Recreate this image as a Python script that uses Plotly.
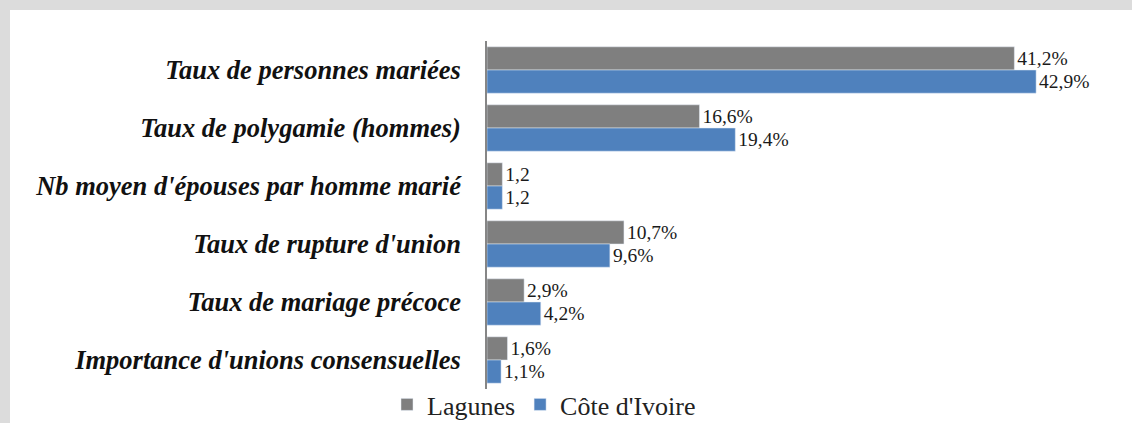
import plotly.graph_objects as go

categories = [
    "Taux de personnes mariées",
    "Taux de polygamie (hommes)",
    "Nb moyen d'épouses par homme marié",
    "Taux de rupture d'union",
    "Taux de mariage précoce",
    "Importance d'unions consensuelles",
]
lagunes = [41.2, 16.6, 1.2, 10.7, 2.9, 1.6]
cote_ivoire = [42.9, 19.4, 1.2, 9.6, 4.2, 1.1]
lagunes_labels = ["41,2%", "16,6%", "1,2", "10,7%", "2,9%", "1,6%"]
cote_ivoire_labels = ["42,9%", "19,4%", "1,2", "9,6%", "4,2%", "1,1%"]

# page is 1132x423 with a 10px grey frame on top and left; the figure is the white panel
OFF = 10
W, H = 1132 - OFF, 423 - OFF
L, R, T, B = 487 - OFF, 5, 41 - OFF, 423 - 389
pw = W - L - R
ph = H - T - B

value_font = dict(family="Liberation Serif", size=19.5, color="#1a1a1a")

fig = go.Figure()
fig.add_trace(go.Bar(
    y=categories, x=lagunes, orientation="h", name="Lagunes",
    marker=dict(color="#7f7f7f"),
    text=lagunes_labels, textposition="outside", cliponaxis=False,
    textfont=value_font,
))
fig.add_trace(go.Bar(
    y=categories, x=cote_ivoire, orientation="h", name="Côte d'Ivoire",
    marker=dict(color="#4f81bd"),
    text=cote_ivoire_labels, textposition="outside", cliponaxis=False,
    textfont=value_font,
))

fig.update_layout(
    width=W, height=H,
    margin=dict(l=L, r=R, t=T, b=B, autoexpand=False),
    paper_bgcolor="white",
    plot_bgcolor="white",
    barmode="group",
    bargap=0.2,
    bargroupgap=0,
    xaxis=dict(range=[0, 50], visible=False, fixedrange=True),
    yaxis=dict(
        autorange="reversed",
        showline=True, linecolor="#868686", linewidth=1.5,
        ticks="", ticklabelstandoff=19,
        tickfont=dict(family="Liberation Serif", size=26.5, color="#111111",
                      weight="bold", style="italic"),
        showgrid=False, fixedrange=True,
    ),
    legend=dict(
        orientation="h", x=(387 - L - OFF) / pw, xanchor="left",
        y=-(B + 5) / ph, yanchor="bottom",
        font=dict(family="Liberation Serif", size=26, color="#222222"),
        bgcolor="rgba(0,0,0,0)", traceorder="normal",
    ),
    showlegend=True,
)

post = (
    "document.documentElement.style.background='#dcdcdc';"
    "document.body.style.margin='0';document.body.style.padding='0';"
    "document.body.style.background='#dcdcdc';"
    "document.body.style.overflow='hidden';"
    "var d=document.getElementsByClassName('plotly-graph-div')[0];"
    "d.style.position='absolute';d.style.left='10px';d.style.top='10px';"
)
fig.write_html("out.html", post_script=post, config={"displayModeBar": False})
